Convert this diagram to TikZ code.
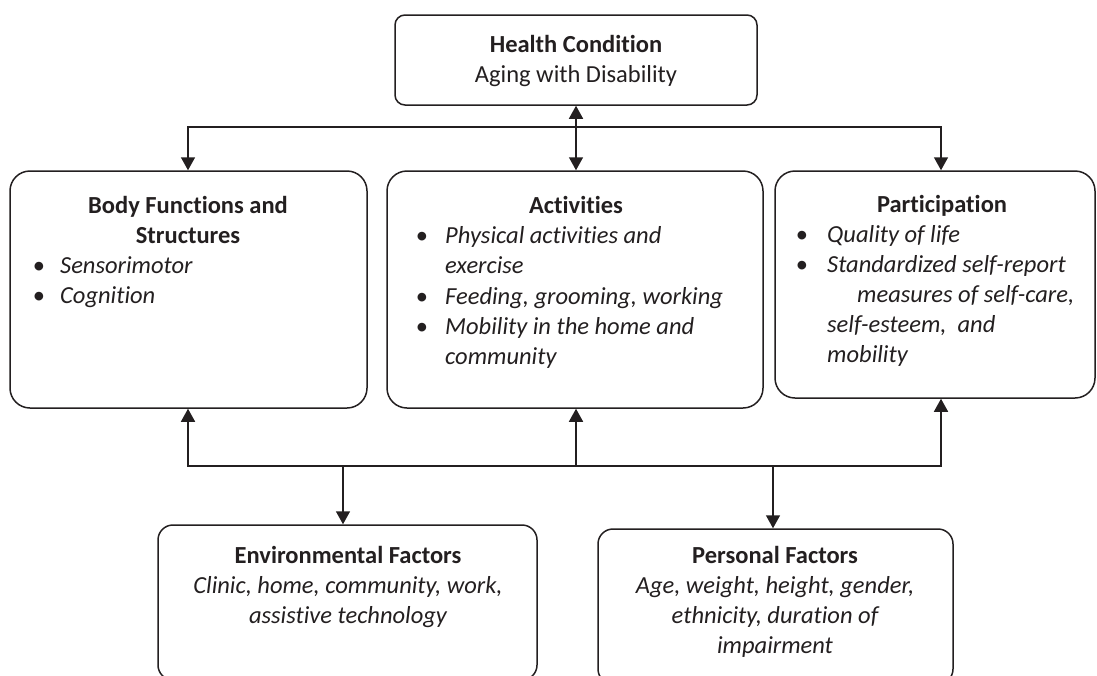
\documentclass[tikz,border=0pt]{standalone}
\usepackage{fontspec}
\setmainfont{Carlito}[Ligatures={NoCommon,NoContextual}]
\usetikzlibrary{arrows.meta}
\definecolor{ink}{HTML}{231F20}
\begin{document}
\begin{tikzpicture}[x=1pt,y=-1pt,
  box/.style={draw=ink, line width=1.5pt, rounded corners=#1, inner sep=0pt},
  txt/.style={text=ink, inner sep=0pt, font=\fontsize{24.5}{30}\selectfont},
  ttl/.style={txt, anchor=base, font=\fontsize{24.5}{30}\selectfont\bfseries},
  ctr/.style={txt, anchor=base, font=\fontsize{24.5}{30}\selectfont\itshape},
  lft/.style={txt, anchor=base west, font=\fontsize{24.5}{30}\selectfont\itshape},
  bul/.style={txt, anchor=base},
  conn/.style={draw=ink, line width=1.5pt, -{Triangle[length=13pt,width=14pt]}},
  conn2/.style={draw=ink, line width=1.5pt, {Triangle[length=13pt,width=14pt]}-{Triangle[length=13pt,width=14pt]}}
]
\useasboundingbox (0,0) rectangle (1097,675);
\clip (0,0) rectangle (1097,675);
\fill[white] (0,0) rectangle (1097,675);

% boxes
\node[box=10pt, minimum width=362pt, minimum height=90pt] (hc) at (576,60) {};
\node[box=20pt, minimum width=357pt, minimum height=237pt] (body) at (188.5,289.5) {};
\node[box=20pt, minimum width=376pt, minimum height=237pt] (act) at (575,289.5) {};
\node[box=20pt, minimum width=320pt, minimum height=227pt] (part) at (935,284.5) {};
\node[box=15pt, minimum width=379pt, minimum height=155pt] (env) at (347.5,602.5) {};
\node[box=15pt, minimum width=355pt, minimum height=155pt] (pers) at (775.5,606.5) {};

% Health condition
\node[ttl] (hc1) at (576,52) {Health Condition};
\node[txt, anchor=base] (hc2) at (576,82) {Aging with Disability};

% Body functions
\node[ttl] (b1) at (188,213) {Body Functions and};
\node[ttl] (b2) at (188,243) {Structures};
\node[bul] (bb1) at (39,273) {•};
\node[lft] (b3) at (60,273) {Sensorimotor};
\node[bul] (bb2) at (39,303) {•};
\node[lft] (b4) at (60,303) {Cognition};

% Activities
\node[ttl] (a1) at (576,213) {Activities};
\node[bul] (ab1) at (422,243) {•};
\node[lft] (a2) at (445,243) {Physical activities and};
\node[lft] (a3) at (445,273) {exercise};
\node[bul] (ab2) at (422,304) {•};
\node[lft] (a4) at (445,304) {Feeding, grooming, working};
\node[bul] (ab3) at (422,334) {•};
\node[lft] (a5) at (445,334) {Mobility in the home and};
\node[lft] (a6) at (445,364) {community};

% Participation
\node[ttl] (p1) at (942,212) {Participation};
\node[bul] (pb1) at (802,242) {•};
\node[lft] (p2) at (827,242) {Quality of life};
\node[bul] (pb2) at (802,272) {•};
\node[lft] (p3) at (827,272) {Standardized self-report};
\node[lft] (p4) at (857,302) {measures of self-care,};
\node[lft] (p5) at (827,332) {self-esteem,\ \ and};
\node[lft] (p6) at (827,362) {mobility};

% Environmental
\node[ttl] (e1) at (348,563) {Environmental Factors};
\node[ctr] (e2) at (348,593) {Clinic, home, community, work,};
\node[ctr] (e3) at (348,623) {assistive technology};

% Personal
\node[ttl] (f1) at (775,563) {Personal Factors};
\node[ctr] (f2) at (775,593) {Age, weight, height, gender,};
\node[ctr] (f3) at (775,623) {ethnicity, duration of};
\node[ctr] (f4) at (775,653) {impairment};

% top connectors
\coordinate (tl) at (188,127);
\coordinate (tm) at (576,127);
\coordinate (tr) at (941,127);
\draw[conn] (tm) -- (tl) -- (tl |- body.north);
\draw[conn] (tm) -- (tr) -- (tr |- part.north);
\draw[conn2] (hc.south) -- (hc.south |- act.north);

% bottom connectors
\coordinate (bl) at (188,466);
\coordinate (bm) at (576,466);
\coordinate (br) at (941,466);
\coordinate (be) at (343,466);
\coordinate (bp) at (773,466);
\draw[conn] (bm) -- (bl) -- (bl |- body.south);
\draw[conn] (bm) -- (br) -- (br |- part.south);
\draw[conn] (bm) -- (bm |- act.south);
\draw[conn] (be) -- (be |- env.north);
\draw[conn] (bp) -- (bp |- pers.north);
\end{tikzpicture}
\end{document}
